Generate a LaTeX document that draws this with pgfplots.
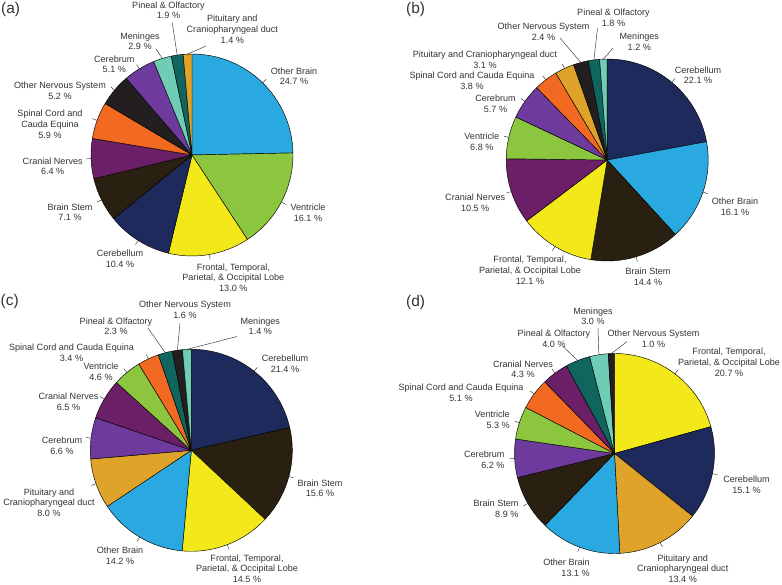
\documentclass[border=0pt]{standalone}
\usepackage{fontspec}
\setmainfont{Liberation Sans}
\usepackage{pgfplots}
\usepackage{pgfplotstable}
\pgfplotsset{compat=1.18}

\definecolor{OB}{HTML}{29A9E0}
\definecolor{VE}{HTML}{8CC63F}
\definecolor{FR}{HTML}{F2E81A}
\definecolor{CB}{HTML}{1E2A5C}
\definecolor{BS}{HTML}{2A2012}
\definecolor{CN}{HTML}{6A1F66}
\definecolor{SC}{HTML}{F26A21}
\definecolor{ON}{HTML}{231F20}
\definecolor{CR}{HTML}{6F3A9E}
\definecolor{ME}{HTML}{6FCDB5}
\definecolor{PO}{HTML}{10665F}
\definecolor{PI}{HTML}{E0A32A}
\definecolor{txt}{HTML}{333333}

\tikzset{
  lab/.style={font=\fontsize{9.1}{10.8}\selectfont, align=center, text=txt, inner sep=0pt},
  pl/.style={font=\fontsize{15.5}{17}\selectfont, text=txt, inner sep=0pt, anchor=north west},
}

% v = percent, c = colour, (lx,ly) = end of a long leader line (0 0: short radial tick)
\pgfplotstableread{
v c lx ly
24.7 OB 0 0
16.1 VE 0 0
13.0 FR 0 0
10.4 CB 0 0
7.1 BS 0 0
6.4 CN 0 0
5.9 SC 0 0
5.2 ON 0 0
5.1 CR 0 0
2.9 ME 156 49
1.9 PO 172.3 22.7
1.4 PI 206 46
}\dataA
\pgfplotstableread{
v c lx ly
22.1 CB 0 0
16.1 OB 0 0
14.4 BS 0 0
12.1 FR 0 0
10.5 CN 0 0
6.8 VE 0 0
5.7 CR 0 0
3.8 SC 0 0
3.1 PI 0 0
2.4 ON 560 38
1.8 PO 597.5 28
1.2 ME 613 48
}\dataB
\pgfplotstableread{
v c lx ly
21.4 CB 0 0
15.6 BS 0 0
14.5 FR 0 0
14.2 OB 0 0
8.0 PI 0 0
6.6 CR 0 0
6.5 CN 0 0
4.6 VE 0 0
3.4 SC 0 0
2.3 PO 148 328
1.6 ON 180 323
1.4 ME 237 336.5
}\dataC
\pgfplotstableread{
v c lx ly
20.7 FR 0 0
15.1 CB 0 0
13.4 PI 0 0
13.1 OB 0 0
8.9 BS 0 0
6.2 CR 0 0
5.3 VE 0 0
5.1 SC 0 0
4.3 CN 0 0
4.0 PO 563 346.5
3.0 ME 598 328
1.0 ON 627 341.5
}\dataD

% #1 table, #2 cx, #3 cy, #4 radius (all in pixels of the 782x585 canvas)
\newcommand\drawpie[4]{%
  \pgfplotstablegetrowsof{#1}%
  \pgfmathtruncatemacro\lastrow{\pgfplotsretval-1}%
  \gdef\pietotal{0}%
  \foreach \i in {0,...,\lastrow}{%
    \pgfplotstablegetelem{\i}{v}\of{#1}%
    \pgfmathsetmacro\tmpsum{\pietotal+\pgfplotsretval}%
    \xdef\pietotal{\tmpsum}%
  }%
  \gdef\curang{90}%
  \foreach \i in {0,...,\lastrow}{%
    \pgfplotstablegetelem{\i}{v}\of{#1}\let\pval\pgfplotsretval
    \pgfplotstablegetelem{\i}{c}\of{#1}\let\pcol\pgfplotsretval
    \pgfplotstablegetelem{\i}{lx}\of{#1}\let\plx\pgfplotsretval
    \pgfplotstablegetelem{\i}{ly}\of{#1}\let\ply\pgfplotsretval
    \pgfmathsetmacro\endang{\curang-360*\pval/\pietotal}%
    \pgfmathsetmacro\midang{(\curang+\endang)/2}%
    \edef\temp{\noexpand\filldraw[fill=\pcol,draw=black,line width=0.45bp,line join=round]
      (axis cs:#2,#3) -- ++(\curang:#4bp) arc[start angle=\curang,end angle=\endang,radius=#4bp] -- cycle;}%
    \temp
    \pgfmathtruncatemacro\haslong{\plx>0}%
    \ifnum\haslong=1
      \edef\temp{\noexpand\draw[line width=0.45bp,txt] (axis cs:#2,#3) ++(\midang:#4bp) -- (axis cs:\plx,\ply);}%
    \else
      \edef\temp{\noexpand\draw[line width=0.45bp,txt] (axis cs:#2,#3) ++(\midang:#4bp) -- ++(\midang:5bp);}%
    \fi
    \temp
    \xdef\curang{\endang}%
  }%
}

\begin{document}
\begin{tikzpicture}
\begin{axis}[
  scale only axis, width=782bp, height=585bp,
  xmin=0, xmax=782, ymin=0, ymax=585, y dir=reverse,
  hide axis, clip=false,
]
\drawpie{\dataA}{192}{155}{101}
\drawpie{\dataB}{607.2}{160}{101}
\drawpie{\dataC}{191.3}{450.3}{101}
\drawpie{\dataD}{614.5}{453.5}{100}

% panel letters
\node[pl] at (axis cs:1,2.5) {(a)};
\node[pl] at (axis cs:406,2.5) {(b)};
\node[pl] at (axis cs:0.5,294.5) {(c)};
\node[pl] at (axis cs:406,295) {(d)};

% (a)
\node[lab] at (axis cs:168.5,10.3) {Pineal \& Olfactory\\1.9 \%};
\node[lab] at (axis cs:232.3,29) {Pituitary and\\Craniopharyngeal duct\\1.4 \%};
\node[lab] at (axis cs:140,41.2) {Meninges\\2.9 \%};
\node[lab] at (axis cs:114.3,64.3) {Cerebrum\\5.1 \%};
\node[lab] at (axis cs:60,90.7) {Other Nervous System\\5.2 \%};
\node[lab] at (axis cs:50,124.3) {Spinal Cord and\\Cauda Equina\\5.9 \%};
\node[lab] at (axis cs:52.7,166.3) {Cranial Nerves\\6.4 \%};
\node[lab] at (axis cs:70,212.2) {Brain Stem\\7.1 \%};
\node[lab] at (axis cs:120,258.8) {Cerebellum\\10.4 \%};
\node[lab] at (axis cs:233.3,277.7) {Frontal, Temporal,\\Parietal, \& Occipital Lobe\\13.0 \%};
\node[lab] at (axis cs:308,213) {Ventricle\\16.1 \%};
\node[lab] at (axis cs:294,76.3) {Other Brain\\24.7 \%};

% (b)
\node[lab] at (axis cs:613.5,17.8) {Pineal \& Olfactory\\1.8 \%};
\node[lab] at (axis cs:639.3,42) {Meninges\\1.2 \%};
\node[lab] at (axis cs:543.5,31.7) {Other Nervous System\\2.4 \%};
\node[lab] at (axis cs:485,59.7) {Pituitary and Craniopharyngeal duct\\3.1 \%};
\node[lab] at (axis cs:472,81) {Spinal Cord and Cauda Equina\\3.8 \%};
\node[lab] at (axis cs:495.5,103.8) {Cerebrum\\5.7 \%};
\node[lab] at (axis cs:481.8,142) {Ventricle\\6.8 \%};
\node[lab] at (axis cs:475.2,203) {Cranial Nerves\\10.5 \%};
\node[lab] at (axis cs:530,270) {Frontal, Temporal,\\Parietal, \& Occipital Lobe\\12.1 \%};
\node[lab] at (axis cs:648,276.7) {Brain Stem\\14.4 \%};
\node[lab] at (axis cs:735,207) {Other Brain\\16.1 \%};
\node[lab] at (axis cs:698,75.3) {Cerebellum\\22.1 \%};

% (c)
\node[lab] at (axis cs:185,310) {Other Nervous System\\1.6 \%};
\node[lab] at (axis cs:260.3,326.2) {Meninges\\1.4 \%};
\node[lab] at (axis cs:116,326.2) {Pineal \& Olfactory\\2.3 \%};
\node[lab] at (axis cs:71.5,353) {Spinal Cord and Cauda Equina\\3.4 \%};
\node[lab] at (axis cs:101,371.5) {Ventricle\\4.6 \%};
\node[lab] at (axis cs:68.5,402) {Cranial Nerves\\6.5 \%};
\node[lab] at (axis cs:62,445.7) {Cerebrum\\6.6 \%};
\node[lab] at (axis cs:49,502.7) {Pituitary and\\Craniopharyngeal duct\\8.0 \%};
\node[lab] at (axis cs:120,555.8) {Other Brain\\14.2 \%};
\node[lab] at (axis cs:247,568.7) {Frontal, Temporal,\\Parietal, \& Occipital Lobe\\14.5 \%};
\node[lab] at (axis cs:320,488.3) {Brain Stem\\15.6 \%};
\node[lab] at (axis cs:285,364) {Cerebellum\\21.4 \%};

% (d)
\node[lab] at (axis cs:593,316.2) {Meninges\\3.0 \%};
\node[lab] at (axis cs:653.5,339) {Other Nervous System\\1.0 \%};
\node[lab] at (axis cs:554,338.5) {Pineal \& Olfactory\\4.0 \%};
\node[lab] at (axis cs:729,362) {Frontal, Temporal,\\Parietal, \& Occipital Lobe\\20.7 \%};
\node[lab] at (axis cs:523,369.2) {Cranial Nerves\\4.3 \%};
\node[lab] at (axis cs:461,392.5) {Spinal Cord and Cauda Equina\\5.1 \%};
\node[lab,align=right] at (axis cs:492.3,420) {Ventricle\\5.3 \%};
\node[lab,align=right] at (axis cs:484.3,460) {Cerebrum\\6.2 \%};
\node[lab,align=right] at (axis cs:496,509) {Brain Stem\\8.9 \%};
\node[lab,align=right] at (axis cs:566.5,568) {Other Brain\\13.1 \%};
\node[lab] at (axis cs:682.7,568.7) {Pituitary and\\Craniopharyngeal duct\\13.4 \%};
\node[lab] at (axis cs:746.5,485) {Cerebellum\\15.1 \%};
\end{axis}
\pgfresetboundingbox
\path (current axis.south west) rectangle (current axis.north east);
\end{tikzpicture}
\end{document}
